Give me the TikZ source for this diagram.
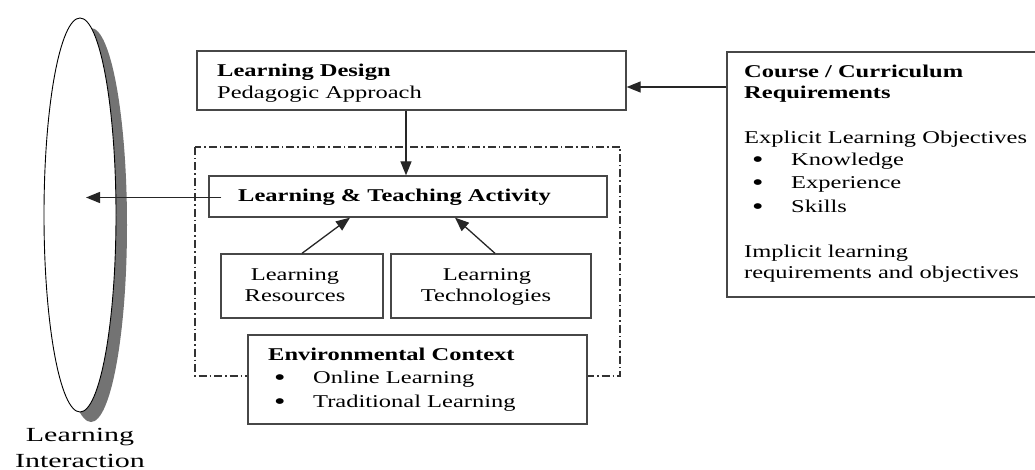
\documentclass[tikz,border=0pt]{standalone}
\usepackage{fontspec}
\setmainfont{Liberation Serif}[FakeStretch=1.36]
\newfontfamily\labelfont{Liberation Serif}[FakeStretch=1.5]
\usetikzlibrary{arrows.meta,shapes.geometric}
\begin{document}
\begin{tikzpicture}[x=1pt,y=-1pt,
  boxline/.style={rectangle, draw=black!72, line width=1.3pt, fill=white, inner sep=0pt},
  arr/.style={draw=black!85, line width=1.3pt, -{Triangle[length=14pt,width=11pt]}},
  txt/.style={anchor=base west, inner sep=0pt, font=\fontsize{18}{22}\selectfont},
  bul/.style={anchor=base west, inner sep=0pt, font=\fontsize{24}{24}\selectfont},
  ctxt/.style={anchor=base, inner sep=0pt, font=\fontsize{18}{22}\selectfont},
  lbl/.style={anchor=base, inner sep=0pt, font=\labelfont\fontsize{20}{24}\selectfont},
  dashbox/.style={draw=black!80, line width=1.3pt, dash pattern=on 8pt off 3pt on 1.5pt off 3pt}]
\clip (0,0) rectangle (1035,470);
% ellipse with shadow
\node (shadow) [ellipse, fill=black!55, minimum width=72pt, minimum height=394pt, inner sep=0pt] at (91,225) {};
\node (ell) [ellipse, draw=black, line width=0.9pt, fill=white, minimum width=72pt, minimum height=394pt, inner sep=0pt] at (80,215) {};
\node[lbl] (li1) at (80,441) {Learning};
\node[lbl] (li2) at (80,467) {Interaction};
% dash-dot frame
\draw[dashbox] (195,147) rectangle (620,376);
% boxes
\node[boxline, minimum width=429pt, minimum height=59pt] (ld) at (411.5,80.5) {};
\node[boxline, minimum width=398pt, minimum height=41pt] (lt) at (408,196.5) {};
\node[boxline, minimum width=162pt, minimum height=64pt] (lr) at (302,286) {};
\node[boxline, minimum width=200pt, minimum height=64pt] (tech) at (491,286) {};
\node[boxline, minimum width=339pt, minimum height=89pt] (env) at (417.5,379.5) {};
\node[boxline, minimum width=323pt, minimum height=245pt] (cr) at (888.5,174.5) {};
% texts
\node[txt] (t1) at (217,77) {\bfseries Learning Design};
\node[txt] (t2) at (217,99) {Pedagogic Approach};
\node[txt] (t3) at (238,202) {\bfseries Learning \& Teaching Activity};
\node[ctxt] (t4) at (295,280) {Learning};
\node[ctxt] (t5) at (295,301) {Resources};
\node[ctxt] (t6) at (487,280) {Learning};
\node[ctxt] (t7) at (486,301) {Technologies};
\node[txt] (t8) at (268,360) {\bfseries Environmental Context};
\node[bul] (b1) at (274,385) {•};
\node[txt] (t9) at (313,383) {Online Learning};
\node[bul] (b2) at (274,409) {•};
\node[txt] (t10) at (313,407) {Traditional Learning};
\node[txt] (c1) at (744,78) {\bfseries Course / Curriculum};
\node[txt] (c2) at (744,99) {\bfseries Requirements};
\node[txt] (c3) at (744,144) {Explicit Learning Objectives};
\node[bul] (cb1) at (752,168) {•};
\node[txt] (c4) at (791,166) {Knowledge};
\node[bul] (cb2) at (752,191) {•};
\node[txt] (c5) at (791,189) {Experience};
\node[bul] (cb3) at (752,215) {•};
\node[txt] (c6) at (791,213) {Skills};
\node[txt] (c7) at (744,258) {Implicit learning};
\node[txt] (c8) at (744,278) {requirements and objectives};
% connectors
\draw[arr] ([xshift=-5.5pt]ld.south) -- ([xshift=-5.5pt]ld.south |- lt.north);
\draw[arr] (cr.west |- 0,87) -- (ld.east |- 0,87);
\draw[arr] ([xshift=13pt,yshift=-1pt]lt.west) -- ([yshift=-1pt]lt.west -| 86,0);
\draw[arr] (lr.north) -- ([xshift=-58pt]lt.south);
\draw[arr] ([xshift=4pt]tech.north) -- ([xshift=47pt]lt.south);
\end{tikzpicture}
\end{document}
